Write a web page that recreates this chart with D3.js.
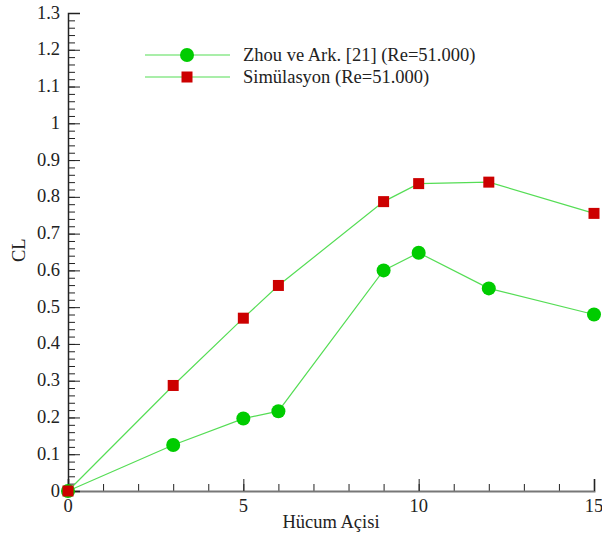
<!DOCTYPE html>
<html lang="en">
<head>
    <meta charset="UTF-8">
    <title>CL - Hücum Açisi</title>
    <script src="https://d3js.org/d3.v7.min.js"></script>
    <style>
        body { margin: 0; background: #fff; }
    </style>
</head>
<body>
    <div id="chart"></div>
    <script>
        // Data
        const angles = [0, 3, 5, 6, 9, 10, 12, 15];
        const zhouCL = [0, 0.125, 0.197, 0.217, 0.6, 0.648, 0.551, 0.48];
        const simCL = [0, 0.287, 0.47, 0.559, 0.787, 0.836, 0.84, 0.755];
        const seriesNames = ["Zhou ve Ark. [21] (Re=51.000)", "Simülasyon (Re=51.000)"];
        const xTicks = [0, 5, 10, 15];
        const yTicks = [0, 0.1, 0.2, 0.3, 0.4, 0.5, 0.6, 0.7, 0.8, 0.9, 1, 1.1, 1.2, 1.3];

        const width = 602, height = 541;
        const margin = { top: 13, right: 8, bottom: 50, left: 68 };
        const innerW = width - margin.left - margin.right;
        const innerH = height - margin.top - margin.bottom;
        const font = "Liberation Serif";
        const fontSize = "18.5px";

        const x = d3.scaleLinear().domain([0, 15]).range([0, innerW]);
        const y = d3.scaleLinear().domain([0, 1.3]).range([innerH, 0]);

        const svg = d3.select("#chart").append("svg")
            .attr("width", width)
            .attr("height", height);
        const g = svg.append("g")
            .attr("transform", `translate(${margin.left},${margin.top})`);

        // Minor ticks
        const xMinor = d3.range(0, 15.01, 1);
        const yMinor = d3.range(0, 1.301, 0.02);

        g.append("g")
            .attr("transform", `translate(0,${innerH})`)
            .call(d3.axisTop(x).tickValues(xMinor).tickSize(7).tickFormat(""))
            .call(a => a.select(".domain").remove())
            .selectAll("line").attr("stroke", "#222");

        g.append("g")
            .call(d3.axisRight(y).tickValues(yMinor).tickSize(7).tickFormat(""))
            .call(a => a.select(".domain").remove())
            .selectAll("line").attr("stroke", "#222");

        // Major ticks (inward)
        g.append("g")
            .attr("transform", `translate(0,${innerH})`)
            .call(d3.axisTop(x).tickValues(xTicks).tickSize(12).tickFormat(""))
            .call(a => a.select(".domain").attr("stroke", "#777").attr("stroke-width", 2))
            .selectAll("line").attr("stroke", "#222");

        g.append("g")
            .call(d3.axisRight(y).tickValues(yTicks).tickSize(12).tickFormat(""))
            .call(a => a.select(".domain").attr("stroke", "#222").attr("stroke-width", 1.5))
            .selectAll("line").attr("stroke", "#222");

        // Tick labels
        g.append("g").selectAll("text")
            .data(xTicks)
            .join("text")
            .attr("x", d => x(d))
            .attr("y", innerH + 21)
            .attr("text-anchor", "middle")
            .style("font-family", font)
            .style("font-size", fontSize)
            .attr("fill", "#222")
            .text(d => d);

        g.append("g").selectAll("text")
            .data(yTicks)
            .join("text")
            .attr("x", -8)
            .attr("y", d => y(d) + 5.5)
            .attr("text-anchor", "end")
            .style("font-family", font)
            .style("font-size", fontSize)
            .attr("fill", "#222")
            .text(d => d);

        // Axis titles
        svg.append("text")
            .attr("x", margin.left + x(7.5))
            .attr("y", 528)
            .attr("text-anchor", "middle")
            .style("font-family", font)
            .style("font-size", fontSize)
            .attr("fill", "#222")
            .text("Hücum Açisi");

        svg.append("text")
            .attr("transform", `translate(25,${margin.top + y(0.655)}) rotate(-90)`)
            .attr("text-anchor", "middle")
            .style("font-family", font)
            .style("font-size", fontSize)
            .attr("fill", "#222")
            .text("CL");

        const line = d3.line()
            .x(d => x(d[0]))
            .y(d => y(d[1]));

        const zhou = angles.map((a, i) => [a, zhouCL[i]]);
        const sim = angles.map((a, i) => [a, simCL[i]]);

        const lineColor = "#55dd55";

        g.append("path").datum(zhou)
            .attr("fill", "none").attr("stroke", lineColor).attr("stroke-width", 1.2)
            .attr("d", line);
        g.append("path").datum(sim)
            .attr("fill", "none").attr("stroke", lineColor).attr("stroke-width", 1.2)
            .attr("d", line);

        g.append("g").selectAll("circle")
            .data(zhou)
            .join("circle")
            .attr("cx", d => x(d[0]))
            .attr("cy", d => y(d[1]))
            .attr("r", 7)
            .attr("fill", "#00cc00");

        const sq = 11;
        g.append("g").selectAll("rect")
            .data(sim)
            .join("rect")
            .attr("x", d => x(d[0]) - sq / 2)
            .attr("y", d => y(d[1]) - sq / 2)
            .attr("width", sq)
            .attr("height", sq)
            .attr("fill", "#cc0000");

        // Legend
        const legend = svg.append("g").attr("transform", "translate(145,55)");
        seriesNames.forEach((name, i) => {
            const row = legend.append("g").attr("transform", `translate(0,${i * 22})`);
            row.append("line")
                .attr("x1", 0).attr("x2", 85)
                .attr("stroke", lineColor).attr("stroke-width", 1.2);
            if (i === 0) {
                row.append("circle").attr("cx", 42).attr("r", 7).attr("fill", "#00cc00");
            } else {
                row.append("rect").attr("x", 42 - sq / 2).attr("y", -sq / 2)
                    .attr("width", sq).attr("height", sq).attr("fill", "#cc0000");
            }
            row.append("text")
                .attr("x", 98).attr("y", 5.5)
                .style("font-family", font)
                .style("font-size", fontSize)
                .attr("fill", "#222")
                .text(name);
        });
    </script>
</body>
</html>
